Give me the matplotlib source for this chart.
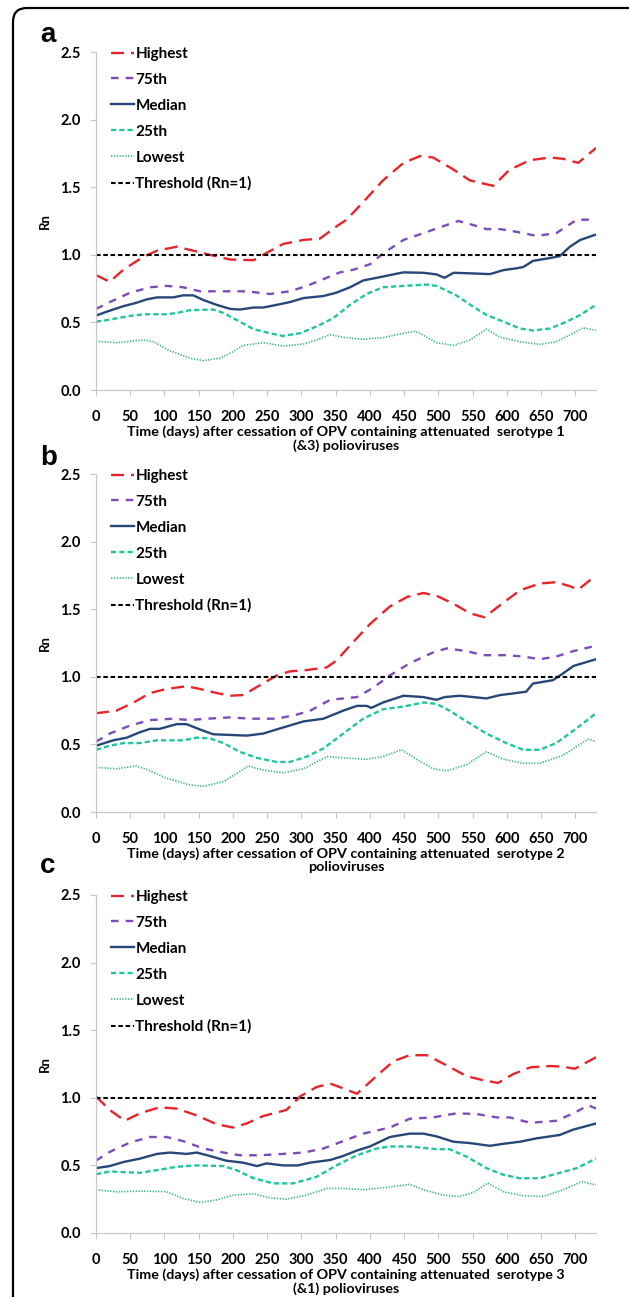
import matplotlib
matplotlib.use("Agg")
import matplotlib.pyplot as plt
from matplotlib.patches import FancyBboxPatch
from matplotlib.transforms import IdentityTransform

plt.rcParams['font.family'] = ['Lato', 'DejaVu Sans']
plt.rcParams['font.weight'] = 'bold'

# ---- Rn percentiles over time (days, Rn) ----
# Panel a: serotype 1 (&3)
a_highest = [(0, 0.85), (20, 0.80), (40, 0.89), (69, 0.985), (89, 1.03), (118, 1.06), (142, 1.03),
             (166, 1.00), (196, 0.965), (230, 0.96), (244, 1.00), (273, 1.08), (303, 1.11), (327, 1.12),
             (351, 1.21), (366, 1.26), (390, 1.39), (419, 1.55), (449, 1.68), (473, 1.73), (492, 1.72),
             (522, 1.63), (546, 1.55), (580, 1.51), (604, 1.63), (634, 1.70), (663, 1.72), (682, 1.71),
             (704, 1.68), (730, 1.79)]
a_p75 = [(0, 0.60), (20, 0.65), (50, 0.72), (79, 0.76), (103, 0.77), (127, 0.76), (152, 0.73),
         (186, 0.73), (220, 0.73), (254, 0.71), (283, 0.73), (308, 0.77), (332, 0.82), (356, 0.87),
         (376, 0.89), (400, 0.93), (419, 1.01), (449, 1.11), (478, 1.16), (506, 1.21), (529, 1.25),
         (551, 1.22), (570, 1.19), (590, 1.19), (614, 1.17), (643, 1.14), (672, 1.16), (702, 1.26),
         (730, 1.26)]
a_median = [(0, 0.55), (16, 0.58), (40, 0.62), (59, 0.645), (74, 0.67), (89, 0.685), (113, 0.685),
            (127, 0.70), (142, 0.70), (157, 0.665), (176, 0.63), (196, 0.60), (210, 0.595), (230, 0.61),
            (244, 0.61), (264, 0.63), (283, 0.65), (303, 0.68), (332, 0.695), (351, 0.72), (371, 0.76),
            (390, 0.81), (410, 0.83), (429, 0.85), (449, 0.87), (478, 0.867), (497, 0.855), (509, 0.83),
            (522, 0.867), (551, 0.862), (575, 0.857), (595, 0.887), (614, 0.90), (624, 0.91),
            (638, 0.955), (667, 0.98), (677, 0.99), (692, 1.06), (707, 1.11), (730, 1.15)]
a_p25 = [(0, 0.505), (20, 0.52), (45, 0.545), (69, 0.56), (103, 0.56), (118, 0.57), (137, 0.59),
         (171, 0.595), (186, 0.57), (210, 0.505), (230, 0.45), (254, 0.42), (273, 0.40), (298, 0.42),
         (322, 0.47), (346, 0.53), (371, 0.63), (395, 0.71), (419, 0.76), (449, 0.77), (483, 0.78),
         (497, 0.77), (526, 0.70), (551, 0.615), (570, 0.555), (595, 0.505), (619, 0.455),
         (638, 0.44), (663, 0.455), (687, 0.505), (707, 0.555), (730, 0.63)]
a_lowest = [(0, 0.36), (30, 0.35), (69, 0.37), (84, 0.357), (108, 0.29), (137, 0.235), (157, 0.217),
            (181, 0.235), (200, 0.283), (215, 0.33), (244, 0.35), (273, 0.325), (303, 0.34), (322, 0.37),
            (342, 0.41), (361, 0.39), (390, 0.375), (419, 0.387), (449, 0.42), (466, 0.435), (478, 0.405),
            (497, 0.35), (522, 0.33), (546, 0.37), (570, 0.45), (590, 0.39), (619, 0.357), (648, 0.337),
            (672, 0.357), (697, 0.42), (711, 0.46), (730, 0.44)]

# Panel b: serotype 2
b_highest = [(0, 0.73), (30, 0.75), (55, 0.81), (79, 0.88), (103, 0.91), (132, 0.93), (152, 0.91),
             (176, 0.88), (196, 0.86), (215, 0.865), (235, 0.925), (264, 1.01), (283, 1.04), (308, 1.05),
             (337, 1.07), (351, 1.12), (376, 1.26), (400, 1.39), (429, 1.52), (454, 1.59), (478, 1.62),
             (497, 1.60), (522, 1.54), (546, 1.47), (567, 1.44), (590, 1.53), (619, 1.64), (648, 1.69),
             (672, 1.70), (692, 1.67), (704, 1.645), (730, 1.75)]
b_p75 = [(0, 0.52), (20, 0.58), (50, 0.64), (79, 0.68), (113, 0.69), (137, 0.68), (162, 0.69),
         (196, 0.70), (225, 0.69), (264, 0.69), (293, 0.72), (313, 0.75), (342, 0.83), (381, 0.85),
         (405, 0.92), (429, 1.01), (458, 1.10), (492, 1.18), (512, 1.21), (541, 1.19), (565, 1.16),
         (599, 1.16), (624, 1.15), (648, 1.13), (672, 1.15), (697, 1.19), (730, 1.23)]
b_median = [(0, 0.49), (25, 0.53), (45, 0.55), (64, 0.59), (79, 0.615), (93, 0.615), (118, 0.65),
            (132, 0.65), (152, 0.61), (171, 0.575), (196, 0.57), (220, 0.565), (244, 0.58), (273, 0.625),
            (303, 0.67), (332, 0.69), (361, 0.75), (381, 0.785), (395, 0.785), (402, 0.77), (419, 0.81),
            (449, 0.86), (478, 0.85), (497, 0.83), (509, 0.85), (531, 0.86), (551, 0.85), (570, 0.84),
            (590, 0.865), (609, 0.877), (628, 0.89), (638, 0.95), (667, 0.975), (682, 1.025),
            (697, 1.08), (730, 1.13)]
b_p25 = [(0, 0.46), (20, 0.49), (40, 0.51), (64, 0.51), (89, 0.53), (127, 0.53), (147, 0.55),
         (166, 0.545), (186, 0.51), (210, 0.445), (235, 0.40), (264, 0.37), (283, 0.37), (308, 0.41),
         (332, 0.47), (361, 0.58), (390, 0.69), (419, 0.76), (449, 0.78), (478, 0.81), (497, 0.80),
         (516, 0.75), (541, 0.67), (570, 0.58), (599, 0.51), (624, 0.46), (648, 0.46), (672, 0.51),
         (702, 0.62), (730, 0.73)]
b_lowest = [(0, 0.33), (30, 0.32), (59, 0.34), (74, 0.315), (103, 0.25), (137, 0.20), (157, 0.19),
            (186, 0.225), (205, 0.285), (222, 0.34), (244, 0.31), (273, 0.29), (303, 0.32), (337, 0.41),
            (361, 0.40), (395, 0.39), (419, 0.41), (446, 0.46), (468, 0.39), (492, 0.32), (512, 0.305),
            (541, 0.35), (570, 0.445), (595, 0.39), (624, 0.36), (648, 0.36), (682, 0.42), (719, 0.54),
            (730, 0.52)]

# Panel c: serotype 3 (&1)
c_highest = [(0, 1.01), (20, 0.91), (42, 0.83), (64, 0.885), (93, 0.93), (118, 0.92), (147, 0.87),
             (176, 0.805), (200, 0.78), (220, 0.81), (244, 0.865), (278, 0.91), (298, 1.01), (322, 1.08),
             (342, 1.105), (361, 1.07), (381, 1.03), (405, 1.14), (434, 1.27), (458, 1.315), (483, 1.315),
             (512, 1.24), (541, 1.16), (565, 1.13), (587, 1.11), (609, 1.175), (634, 1.225), (663, 1.235),
             (682, 1.23), (699, 1.215), (730, 1.30)]
c_p75 = [(0, 0.535), (20, 0.60), (50, 0.67), (79, 0.71), (103, 0.71), (127, 0.68), (157, 0.625),
         (186, 0.595), (210, 0.575), (239, 0.575), (273, 0.585), (303, 0.595), (332, 0.625), (361, 0.68),
         (390, 0.735), (429, 0.78), (458, 0.845), (492, 0.855), (526, 0.885), (556, 0.88), (585, 0.855),
         (604, 0.855), (634, 0.815), (672, 0.83), (697, 0.885), (719, 0.945), (730, 0.92)]
c_median = [(0, 0.48), (20, 0.495), (40, 0.525), (64, 0.55), (89, 0.585), (108, 0.595), (132, 0.585),
            (147, 0.595), (166, 0.57), (190, 0.535), (215, 0.52), (235, 0.495), (249, 0.515), (273, 0.50),
            (295, 0.50), (312, 0.52), (342, 0.54), (361, 0.57), (381, 0.61), (400, 0.64), (429, 0.71),
            (458, 0.735), (478, 0.735), (497, 0.715), (522, 0.675), (546, 0.665), (575, 0.645),
            (595, 0.66), (619, 0.675), (643, 0.70), (677, 0.725), (697, 0.765), (730, 0.81)]
c_p25 = [(0, 0.435), (20, 0.455), (64, 0.445), (89, 0.465), (118, 0.49), (147, 0.50), (186, 0.495),
         (205, 0.465), (230, 0.405), (259, 0.367), (288, 0.367), (322, 0.415), (351, 0.50), (381, 0.575),
         (410, 0.625), (429, 0.64), (458, 0.64), (497, 0.62), (516, 0.62), (541, 0.565), (570, 0.48),
         (595, 0.43), (619, 0.405), (648, 0.405), (677, 0.445), (702, 0.48), (730, 0.55)]
c_lowest = [(0, 0.32), (30, 0.305), (69, 0.31), (103, 0.305), (127, 0.255), (152, 0.227), (176, 0.245),
            (200, 0.28), (230, 0.29), (254, 0.26), (278, 0.25), (307, 0.28), (337, 0.33), (361, 0.33),
            (390, 0.32), (429, 0.34), (458, 0.36), (478, 0.32), (507, 0.28), (531, 0.27), (551, 0.30),
            (572, 0.37), (595, 0.305), (624, 0.275), (653, 0.27), (682, 0.32), (709, 0.38), (730, 0.355)]

threshold = 1.0
x_ticks = list(range(0, 701, 50))
y_ticks = [0.0, 0.5, 1.0, 1.5, 2.0, 2.5]
series_labels = ["Highest", "75th", "Median", "25th", "Lowest"]
panel_letters = ["a", "b", "c"]
xlabels = [
    "Time (days) after cessation of OPV containing attenuated  serotype 1\n(&3) polioviruses",
    "Time (days) after cessation of OPV containing attenuated  serotype 2\npolioviruses",
    "Time (days) after cessation of OPV containing attenuated  serotype 3\n(&1) polioviruses",
]
panels = [
    [a_highest, a_p75, a_median, a_p25, a_lowest],
    [b_highest, b_p75, b_median, b_p25, b_lowest],
    [c_highest, c_p75, c_median, c_p25, c_lowest],
]

styles = [
    dict(color="#e8242b", lw=1.7, dashes=(5.5, 3.0)),
    dict(color="#7b4cbc", lw=1.7, dashes=(3.2, 3.0)),
    dict(color="#27467a", lw=1.7, dashes=None),
    dict(color="#1fc59c", lw=1.7, dashes=(2.2, 1.3)),
    dict(color="#3cbb7e", lw=1.2, dashes=(0.8, 0.9)),
]

W, H = 629, 1297
fig = plt.figure(figsize=(W / 100, H / 100), dpi=100)
fig.patch.set_facecolor("white")

# rounded frame around the figure
frame = FancyBboxPatch((13, -40), 680, H - 8 + 40, boxstyle="round,pad=0,rounding_size=14",
                       transform=IdentityTransform(), facecolor="none", edgecolor="black",
                       linewidth=1.6, zorder=0)
fig.patches.append(frame)

axes_left, axes_right = 96, 596
axes_h = 338
bottoms = [390, 812, 1233]
letter_y = [42, 465, 873]
grey = "#c8c8c8"

for k, series in enumerate(panels):
    bottom = bottoms[k]
    ax = fig.add_axes([axes_left / W, (H - bottom) / H, (axes_right - axes_left) / W, axes_h / H])
    for data, lab, st in zip(series, series_labels, styles):
        days = [d for d, _ in data]
        vals = [v for _, v in data]
        line, = ax.plot(days, vals, color=st["color"], lw=st["lw"], label=lab,
                        solid_joinstyle="round", dash_capstyle="butt")
        if st["dashes"] is not None:
            line.set_dashes(st["dashes"])
    th, = ax.plot([0, 730], [threshold, threshold], color="black", lw=1.5, label="Threshold (Rn=1)")
    th.set_dashes((2.2, 1.3))

    ax.set_xlim(0, 730)
    ax.set_ylim(0, 2.5)
    ax.set_xticks(x_ticks)
    ax.set_yticks(y_ticks)
    ax.set_yticklabels([f"{t:.1f}" for t in y_ticks])
    for side in ("top", "right"):
        ax.spines[side].set_visible(False)
    for side in ("left", "bottom"):
        ax.spines[side].set_color(grey)
        ax.spines[side].set_linewidth(0.9)
    ax.tick_params(axis="both", direction="out", length=4, width=0.8, color=grey,
                   labelsize=10.5, labelcolor="black")
    ax.tick_params(axis="y", pad=7)
    ax.tick_params(axis="x", pad=10.5)
    ax.set_ylabel("Rn", fontsize=9.5, fontweight="bold", labelpad=7)
    ax.set_xlabel(xlabels[k], fontsize=10.3, fontweight="bold", labelpad=0.5, linespacing=1.15)

    ax.legend(loc="upper left", bbox_to_anchor=(0.03, 1.015), frameon=False,
              prop=dict(family=["Lato", "DejaVu Sans"], weight="bold", size=11),
              handlelength=1.5, handletextpad=0.1, labelspacing=0.78, borderpad=0,
              borderaxespad=0)

    fig.text(40 / W, 1 - letter_y[k] / H, panel_letters[k], fontsize=20, fontweight="bold",
             family=["Liberation Sans", "DejaVu Sans"], va="baseline", ha="left")

fig.savefig("out.png", dpi=100, facecolor="white")
